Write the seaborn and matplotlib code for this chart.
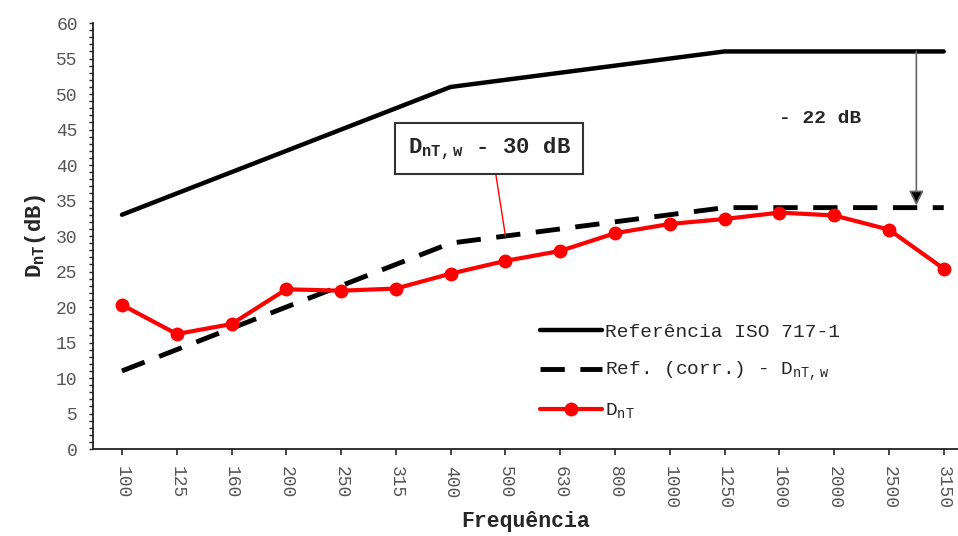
import matplotlib
matplotlib.use("Agg")
import matplotlib.pyplot as plt
import seaborn as sns
import pandas as pd
import numpy as np
from matplotlib.ticker import MultipleLocator

freqs = ["100", "125", "160", "200", "250", "315", "400", "500", "630",
         "800", "1000", "1250", "1600", "2000", "2500", "3150"]
ref_iso = [33, 36, 39, 42, 45, 48, 51, 52, 53, 54, 55, 56, 56, 56, 56, 56]
ref_corr = [11, 14, 17, 20, 23, 26, 29, 30, 31, 32, 33, 34, 34, 34, 34, 34]
dnt = [20.3, 16.2, 17.6, 22.5, 22.3, 22.6, 24.7, 26.5, 27.9, 30.4, 31.7,
       32.4, 33.3, 32.9, 30.9, 25.4]

sns.set_style("ticks")
plt.rcParams["font.family"] = ["Liberation Mono", "DejaVu Sans"]
plt.rcParams["mathtext.fontset"] = "custom"
plt.rcParams["mathtext.rm"] = "Liberation Mono"
plt.rcParams["mathtext.bf"] = "Liberation Mono:bold"

df = pd.DataFrame({"pos": np.arange(len(freqs)), "freq": freqs,
                   "ref": ref_iso, "corr": ref_corr, "dnt": dnt})

fig = plt.figure(figsize=(9.58, 5.36), dpi=100)
ax = fig.add_axes([0.097, 0.1623, 0.903, 0.7947])

sns.lineplot(data=df, x="pos", y="ref", ax=ax, color="black", lw=3.2,
             label="Referência ISO 717-1")
sns.lineplot(data=df, x="pos", y="corr", ax=ax, color="black", lw=3.5,
             dashes=False, label=r"Ref. (corr.) - D$_{\mathregular{nT,w}}$")
ax.lines[-1].set_dashes([5, 3.2])
sns.lineplot(data=df, x="pos", y="dnt", ax=ax, color="#ff0000", lw=3,
             marker="o", markersize=10, markeredgewidth=0,
             label=r"D$_{\mathregular{nT}}$")

ax.set_xlim(-0.53, 15.26)
ax.set_ylim(0, 60)
ax.set_xticks(df["pos"])
ax.set_xticklabels(freqs, rotation=-90, fontsize=13, color="#555555")
ax.yaxis.set_major_locator(MultipleLocator(5))
ax.yaxis.set_minor_locator(MultipleLocator(1))
ax.tick_params(axis="y", which="both", direction="out", length=3, width=1,
               labelsize=13, labelcolor="#555555", pad=8)
ax.tick_params(axis="x", direction="out", length=4, width=1.2, pad=8)
for s in ["top", "right"]:
    ax.spines[s].set_visible(False)
for s in ["left", "bottom"]:
    ax.spines[s].set_linewidth(1.3)
    ax.spines[s].set_color("#222222")

ax.set_xlabel("Frequência", fontsize=15.5, fontweight="bold", labelpad=2)
ax.set_ylabel(r"D$_{\mathregular{nT}}$(dB)", fontsize=16, fontweight="bold",
              labelpad=6)

leg = ax.legend(loc="upper left", bbox_to_anchor=(0.496, 0.336), frameon=False,
                fontsize=14, handlelength=3.2, handletextpad=0.15,
                labelspacing=0.95)

ax.annotate(r"D$_{\mathregular{nT,w}}$ - 30 dB", xy=(7.0, 30),
            xytext=(6.7, 42.3), ha="center", va="center", fontsize=16,
            fontweight="bold",
            bbox=dict(boxstyle="square,pad=0.55", fc="white", ec="#333333", lw=1.5),
            arrowprops=dict(arrowstyle="-", color="red", lw=1,
                            relpos=(0.53, 0.0), shrinkA=0, shrinkB=0))

ax.annotate("", xy=(14.5, 34.3), xytext=(14.5, 56),
            arrowprops=dict(arrowstyle="-|>", edgecolor="#666666",
                            facecolor="black", lw=1.2, mutation_scale=22,
                            shrinkA=0, shrinkB=0))
ax.text(12.74, 46.5, "- 22 dB", ha="center", va="center", fontsize=14,
        fontweight="bold")

fig.savefig("out.png", dpi=100)
